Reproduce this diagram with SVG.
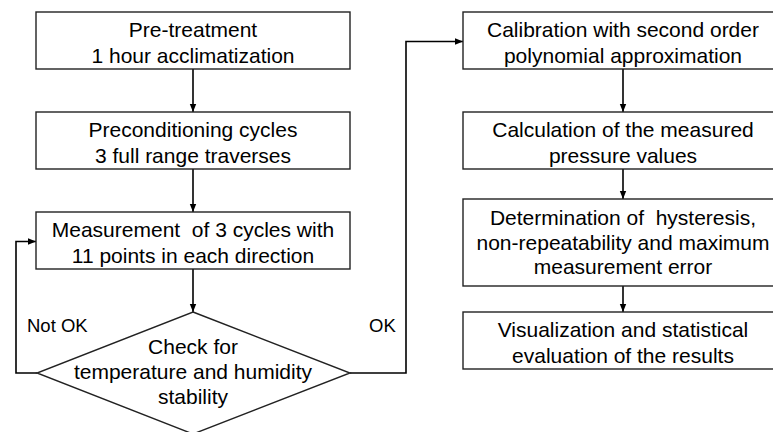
<svg xmlns="http://www.w3.org/2000/svg" width="773" height="432" viewBox="0 0 773 432">
<defs>
<marker id="ah" viewBox="0 0 8 8" refX="8" refY="4" markerWidth="8" markerHeight="8" markerUnits="userSpaceOnUse" orient="auto">
<path d="M0,0.8 L8,4 L0,7.2 Z" fill="#000"/>
</marker>
<style>
.box{fill:#fff;stroke:#222;stroke-width:1.4}
.t{font-family:"Liberation Sans",Arial,sans-serif;font-size:21px;fill:#000;text-anchor:middle;white-space:pre}
.l{font-family:"Liberation Sans",Arial,sans-serif;font-size:18.5px;fill:#000}
.c{fill:none;stroke:#000;stroke-width:1.6;marker-end:url(#ah)}
</style>
</defs>
<rect width="773" height="432" fill="#fff"/>
<g id="connectors">
<line class="c" x1="193" y1="69" x2="193" y2="112"/>
<line class="c" x1="193" y1="169" x2="193" y2="212"/>
<line class="c" x1="193" y1="269" x2="193" y2="312"/>
<polyline class="c" points="37,373 16,373 16,241.5 36,241.5"/>
<polyline class="c" points="350,373 406,373 406,41.5 463,41.5"/>
<line class="c" x1="623" y1="69" x2="623" y2="112"/>
<line class="c" x1="623" y1="169" x2="623" y2="199"/>
<line class="c" x1="623" y1="286" x2="623" y2="312"/>
<text class="l" x="27" y="332">Not OK</text>
<text class="l" x="369" y="332">OK</text>
</g>
<g id="pretreatment">
<rect class="box" x="36" y="12" width="314" height="57"/>
<text class="t" x="193" y="37">Pre-treatment</text>
<text class="t" x="193" y="62.5">1 hour acclimatization</text>
</g>
<g id="preconditioning">
<rect class="box" x="36" y="112" width="314" height="57"/>
<text class="t" x="193" y="137">Preconditioning cycles</text>
<text class="t" x="193" y="162.5">3 full range traverses</text>
</g>
<g id="measurement">
<rect class="box" x="36" y="212" width="314" height="57"/>
<text class="t" x="193" y="237" xml:space="preserve">Measurement  of 3 cycles with</text>
<text class="t" x="193" y="262.5">11 points in each direction</text>
</g>
<g id="check">
<polygon class="box" points="193,312 350,373 193,434 37,373"/>
<text class="t" x="193" y="353.5">Check for</text>
<text class="t" x="193" y="379">temperature and humidity</text>
<text class="t" x="193" y="404">stability</text>
</g>
<g id="calibration">
<rect class="box" x="463" y="12" width="320" height="57"/>
<text class="t" x="623" y="37">Calibration with second order</text>
<text class="t" x="623" y="62.5">polynomial approximation</text>
</g>
<g id="calculation">
<rect class="box" x="463" y="112" width="320" height="57"/>
<text class="t" x="623" y="137">Calculation of the measured</text>
<text class="t" x="623" y="162.5">pressure values</text>
</g>
<g id="determination">
<rect class="box" x="463" y="199" width="320" height="87"/>
<text class="t" x="623" y="225" xml:space="preserve">Determination of  hysteresis,</text>
<text class="t" x="623" y="249.5">non-repeatability and maximum</text>
<text class="t" x="623" y="274">measurement error</text>
</g>
<g id="visualization">
<rect class="box" x="463" y="312" width="320" height="57"/>
<text class="t" x="623" y="337">Visualization and statistical</text>
<text class="t" x="623" y="362.5">evaluation of the results</text>
</g>
</svg>
